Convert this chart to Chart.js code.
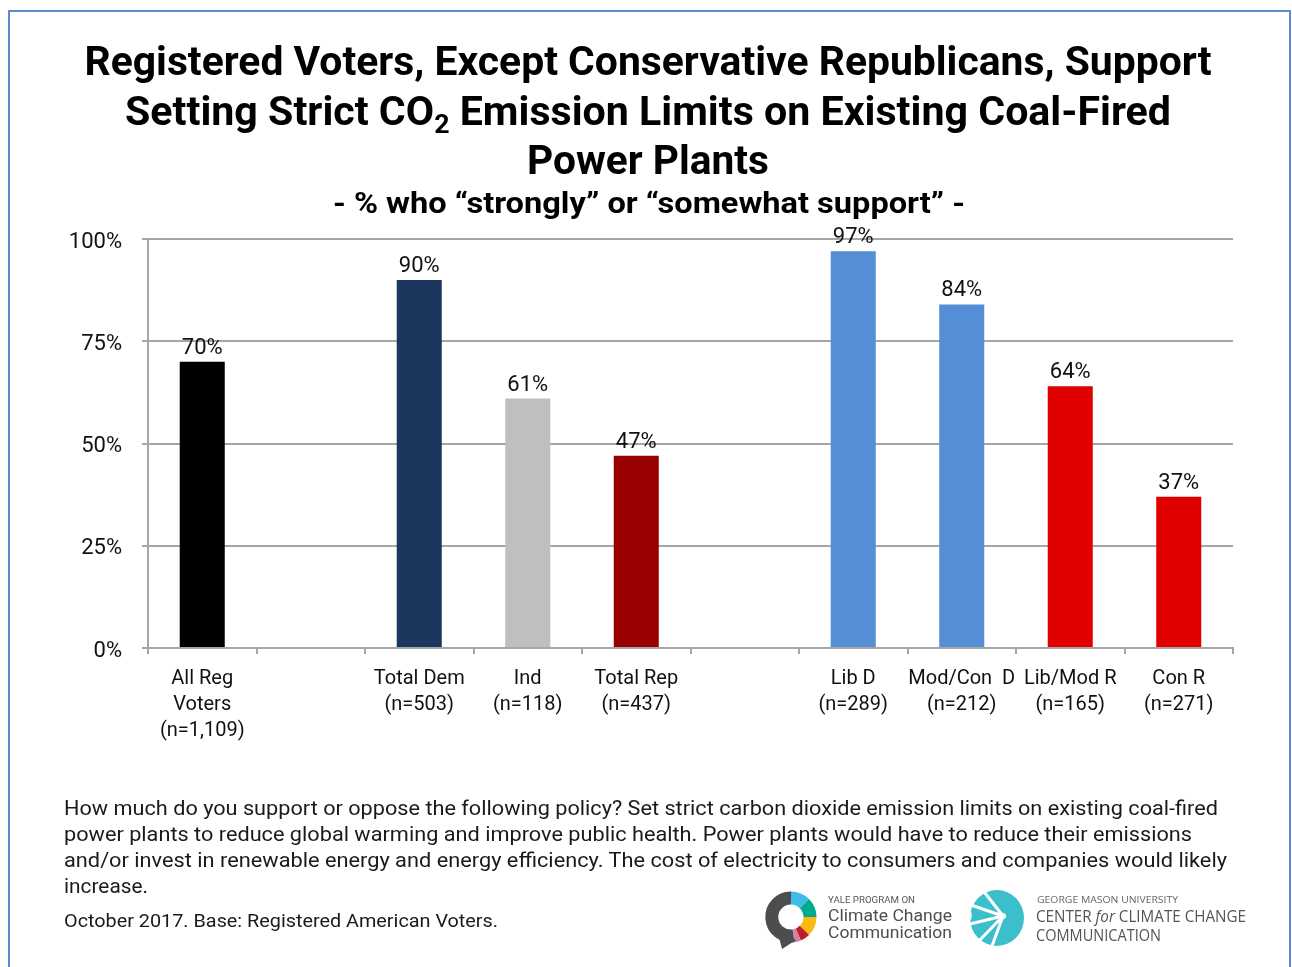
<!DOCTYPE html>
<html>
<head>
<meta charset="utf-8">
<script src="https://cdn.jsdelivr.net/npm/chart.js"></script>
<style>
  html, body { margin: 0; padding: 0; background: #fff; }
  #wrap { position: relative; width: 1292px; height: 967px; overflow: hidden; }
  #frame { position: absolute; left: 8px; top: 10px; width: 1283px; height: 980px; border: 2px solid #5B8BC9; box-sizing: border-box; }
  #myChart { position: absolute; left: 0; top: 0; }
  #overlay { position: absolute; left: 0; top: 0; pointer-events: none; }
  .t { font-family: Roboto, "Noto Sans", sans-serif; font-weight: 700; fill: #000; }
  .f { font-family: Roboto, "Noto Sans", sans-serif; fill: #1a1a1a; }
</style>
</head>
<body>
<div id="wrap">
  <div id="frame"></div>
  <canvas id="myChart" width="1292" height="967"></canvas>
  <svg id="overlay" width="1292" height="967" xmlns="http://www.w3.org/2000/svg">
    <!-- title -->
    <text class="t" x="648" y="75" font-size="40" text-anchor="middle" textLength="1127" lengthAdjust="spacingAndGlyphs">Registered Voters, Except Conservative Republicans, Support</text>
    <text class="t" x="648" y="125" font-size="40" text-anchor="middle" textLength="1046" lengthAdjust="spacingAndGlyphs">Setting Strict CO<tspan font-size="26" dy="8">2</tspan><tspan dy="-8"> Emission Limits on Existing Coal-Fired</tspan></text>
    <text class="t" x="648" y="174" font-size="40" text-anchor="middle" textLength="242" lengthAdjust="spacingAndGlyphs">Power Plants</text>
    <text class="t" x="649" y="213" font-size="29" text-anchor="middle" textLength="632" lengthAdjust="spacingAndGlyphs">- % who “strongly” or “somewhat support” -</text>

    <!-- question text -->
    <text class="f" x="64" y="815" font-size="20" textLength="1154" lengthAdjust="spacingAndGlyphs">How much do you support or oppose the following policy? Set strict carbon dioxide emission limits on existing coal-fired</text>
    <text class="f" x="64" y="841" font-size="20" textLength="1128" lengthAdjust="spacingAndGlyphs">power plants to reduce global warming and improve public health. Power plants would have to reduce their emissions</text>
    <text class="f" x="64" y="867" font-size="20" textLength="1163" lengthAdjust="spacingAndGlyphs">and/or invest in renewable energy and energy efficiency. The cost of electricity to consumers and companies would likely</text>
    <text class="f" x="64" y="893" font-size="20" textLength="84" lengthAdjust="spacingAndGlyphs">increase.</text>
    <text class="f" x="64" y="927" font-size="18.5" textLength="434" lengthAdjust="spacingAndGlyphs">October 2017. Base: Registered American Voters.</text>

    <!-- Yale logo -->
    <g fill="none" stroke-width="13">
      <path d="M791 898 A19 19 0 0 1 804.4 903.6" stroke="#3DBDE8"/>
      <path d="M804.4 903.6 A19 19 0 0 1 810 917" stroke="#00A98F"/>
      <path d="M810 917 A19 19 0 0 1 804.4 930.4" stroke="#FDB913"/>
      <path d="M804.4 930.4 A19 19 0 0 1 798.3 934.6" stroke="#BE1E2D"/>
      <path d="M798.3 934.6 A19 19 0 0 1 793.5 935.8" stroke="#D47FA6"/>
      <path d="M793.5 935.8 A19 19 0 1 1 791 898" stroke="#4D4D4F"/>
    </g>
    <path d="M777 930 L782 949 L796 940 Z" fill="#4D4D4F"/>
    <text x="828" y="903" font-family="Roboto, sans-serif" font-size="8.5" fill="#555" textLength="87" lengthAdjust="spacingAndGlyphs">YALE PROGRAM ON</text>
    <text x="828" y="921" font-family="Roboto, sans-serif" font-size="17" fill="#4D4D4F" textLength="124" lengthAdjust="spacingAndGlyphs">Climate Change</text>
    <text x="828" y="938" font-family="Roboto, sans-serif" font-size="17" fill="#4D4D4F" textLength="124" lengthAdjust="spacingAndGlyphs">Communication</text>

    <!-- GMU logo -->
    <ellipse cx="997" cy="918" rx="27" ry="28" fill="#3BBFCB"/>
    <g stroke="#fff" stroke-width="3" stroke-linecap="round">
      <path d="M1003 916 L968 904"/>
      <path d="M1003 916 L970 924"/>
      <path d="M1003 916 L978 942"/>
      <path d="M1003 916 L992 946"/>
      <path d="M1003 916 L985 893"/>
    </g>
    <path d="M968 905 Q 975 915 969 923 Z" fill="#fff"/>
    <circle cx="1003" cy="916" r="3" fill="#fff"/>
    <text x="1037" y="903" font-family="'Open Sans', sans-serif" font-size="9.5" fill="#666" textLength="141" lengthAdjust="spacingAndGlyphs">GEORGE MASON UNIVERSITY</text>
    <text x="1036" y="922" font-family="'Open Sans', sans-serif" font-size="16" fill="#555" textLength="210" lengthAdjust="spacingAndGlyphs">CENTER <tspan font-style="italic">for</tspan> CLIMATE CHANGE</text>
    <text x="1036" y="941" font-family="'Open Sans', sans-serif" font-size="16" fill="#555" textLength="125" lengthAdjust="spacingAndGlyphs">COMMUNICATION</text>
  </svg>
</div>

<script>
// chart data
const categories = [
    ['All Reg', 'Voters', '(n=1,109)'],
    '',
    ['Total Dem', '(n=503)'],
    ['Ind', '(n=118)'],
    ['Total Rep', '(n=437)'],
    '',
    ['Lib D', '(n=289)'],
    ['Mod/Con  D', '(n=212)'],
    ['Lib/Mod R', '(n=165)'],
    ['Con R', '(n=271)']
];
const support = [70, null, 90, 61, 47, null, 97, 84, 64, 37];
const barColors = ['#000000', null, '#1B375D', '#BFBFBF', '#990000', null, '#558ED5', '#558ED5', '#E00000', '#E00000'];
const yTicks = [0, 25, 50, 75, 100];

const gridGray = '#A6A6A6';

// draws "NN%" above every bar
const barLabels = {
    id: 'barLabels',
    afterDatasetsDraw(chart) {
        const ctx = chart.ctx;
        const meta = chart.getDatasetMeta(0);
        ctx.save();
        ctx.font = '22px Roboto';
        ctx.fillStyle = '#111';
        ctx.textAlign = 'center';
        ctx.textBaseline = 'alphabetic';
        meta.data.forEach((bar, i) => {
            if (support[i] == null) return;
            ctx.fillText(support[i] + '%', bar.x, bar.y - 8);
        });
        ctx.restore();
    }
};

const ctx = document.getElementById('myChart').getContext('2d');
new Chart(ctx, {
    type: 'bar',
    data: {
        labels: categories,
        datasets: [{
            data: support,
            backgroundColor: barColors,
            categoryPercentage: 1,
            barPercentage: 0.415
        }]
    },
    options: {
        responsive: false,
        animation: false,
        layout: {
            padding: { left: 0, top: 239, right: 59, bottom: 0 }
        },
        plugins: {
            legend: { display: false },
            tooltip: { enabled: false }
        },
        scales: {
            x: {
                grid: {
                    offset: true,
                    drawOnChartArea: false,
                    color: gridGray,
                    lineWidth: 2,
                    tickLength: 6
                },
                border: { color: gridGray, width: 2 },
                ticks: {
                    color: '#111',
                    padding: 12,
                    maxRotation: 0,
                    autoSkip: false,
                    font: { family: 'Roboto', size: 20, lineHeight: 1.3 }
                },
                afterFit(scale) { scale.height = 319; }
            },
            y: {
                min: 0,
                max: 100,
                afterBuildTicks(scale) { scale.ticks = yTicks.map(v => ({ value: v })); },
                grid: { color: gridGray, lineWidth: 2, tickLength: 6 },
                border: { color: gridGray, width: 2 },
                ticks: {
                    color: '#111',
                    padding: 20,
                    labelOffset: 3,
                    font: { family: 'Roboto', size: 22 },
                    callback: v => v + '%'
                },
                afterFit(scale) { scale.width = 148; }
            }
        }
    },
    plugins: [barLabels]
});
</script>
</body>
</html>
